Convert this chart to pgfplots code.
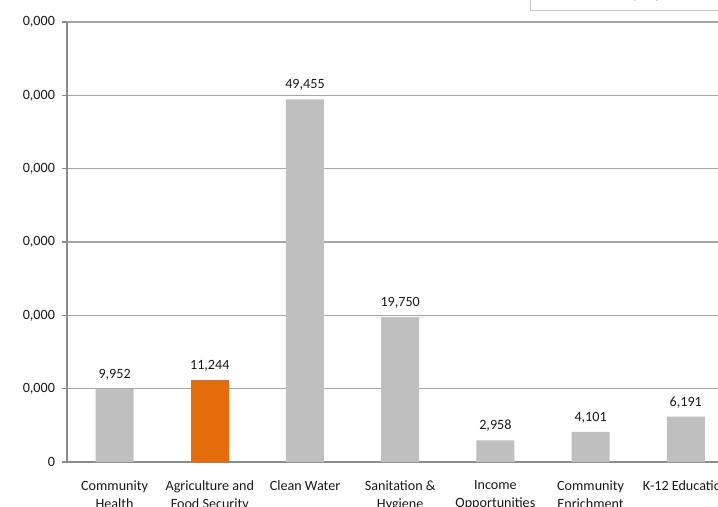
\documentclass[border=0pt]{standalone}
\usepackage{fontspec}
\setmainfont{Carlito}
\usepackage{pgfplots}
\pgfplotsset{compat=1.18}
\definecolor{bargray}{HTML}{BFBFBF}
\definecolor{barorange}{HTML}{E46C0A}
\definecolor{gridgray}{HTML}{A6A6A6}
\definecolor{axisgray}{HTML}{8C8C8C}
\begin{document}
\begin{tikzpicture}
\useasboundingbox (0,0) rectangle (538.5pt,380.25pt);
\clip (0,0) rectangle (538.5pt,380.25pt);
\begin{axis}[
  at={(50.25pt,33.75pt)}, anchor=south west,
  scale only axis, width=499.8pt, height=330pt,
  xmin=-0.5, xmax=6.5, ymin=0, ymax=60000,
  scaled y ticks=false,
  axis lines=left, axis line style={-, draw=axisgray, line width=0.8pt},
  ymajorgrids, grid style={draw=gridgray, line width=0.8pt},
  ytick={0,10000,20000,30000,40000,50000,60000},
  yticklabels={0,{0,000},{0,000},{0,000},{0,000},{0,000},{0,000}},
  ytick style={draw=axisgray, line width=0.8pt},
  tick align=outside, major tick length=3.5pt,
  xtick={0,1,2,3,4,5,6},
  xticklabels={{Community\\Health},{Agriculture and\\Food Security},{Clean Water},{Sanitation \&\\Hygiene},{Income\\Opportunities},{Community\\Enrichment},{K-12 Education}},
  x tick style={draw=none},
  extra x ticks={-0.5,0.5,1.5,2.5,3.5,4.5,5.5,6.5},
  extra x tick labels={},
  extra x tick style={tick style={draw=axisgray, line width=0.8pt}},
  xticklabel style={align=center, font=\fontsize{10.6}{13.5}\selectfont, yshift=-7pt, text=black!90},
  yticklabel style={font=\fontsize{10.6}{13.5}\selectfont, text=black!90, xshift=-2pt},
  ybar, bar width=28.5pt, bar shift=0pt,
  nodes near coords,
  every node near coord/.append style={font=\fontsize{10.6}{13.5}\selectfont, text=black!90, yshift=3pt},
  /pgf/number format/1000 sep={,},
  /pgf/number format/assume math mode=true,
  clip=false,
]
\addplot[fill=bargray, draw=none] coordinates {(0,9952) (2,49455) (3,19750) (4,2958) (5,4101) (6,6191)};
\addplot[fill=barorange, draw=none] coordinates {(1,11244)};
\end{axis}
\fill[black!12] (398.5pt,371.75pt) rectangle (561pt,400pt);
\filldraw[fill=white, draw=black!22, line width=0.6pt] (397.5pt,372.75pt) rectangle (560pt,400pt);
\node[anchor=base east, font=\fontsize{10.6}{13.5}\selectfont, inner sep=0pt] at (505pt,381.2pt) {Total: 103,651 people};
\end{tikzpicture}
\end{document}
